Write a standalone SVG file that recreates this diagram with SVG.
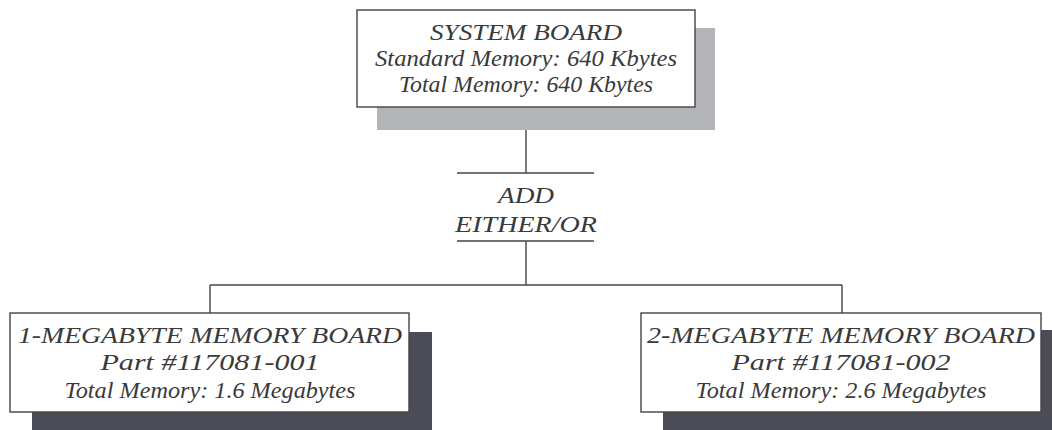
<svg xmlns="http://www.w3.org/2000/svg" width="1052" height="430" viewBox="0 0 1052 430">
<style>
.box{fill:#fff;stroke:#444;stroke-width:1.4}
.sh1{fill:#b3b4b8}
.sh2{fill:#4b4c55}
.ln{stroke:#444;stroke-width:1.4;fill:none}
text{font-family:"Liberation Serif","DejaVu Serif",serif;font-style:italic;font-size:23px;fill:#3a3a3a;text-anchor:middle}
</style>
<rect width="1052" height="430" fill="#fff"/>
<g id="connectors">
<line class="ln" x1="526" y1="107" x2="526" y2="173"/>
<line class="ln" x1="457" y1="173" x2="594" y2="173"/>
<line class="ln" x1="457" y1="241" x2="594" y2="241"/>
<line class="ln" x1="526" y1="241" x2="526" y2="285"/>
<line class="ln" x1="210" y1="285" x2="842" y2="285"/>
<line class="ln" x1="210" y1="285" x2="210" y2="313"/>
<line class="ln" x1="842" y1="285" x2="842" y2="313"/>
</g>
<g id="system-board">
<rect class="sh1" x="377" y="28" width="338" height="102"/>
<rect class="box" x="357" y="10" width="338" height="97"/>
<text x="526" y="40" textLength="192" lengthAdjust="spacingAndGlyphs">SYSTEM BOARD</text>
<text x="526" y="66" textLength="302" lengthAdjust="spacingAndGlyphs">Standard Memory: 640 Kbytes</text>
<text x="526" y="92" textLength="254" lengthAdjust="spacingAndGlyphs">Total Memory: 640 Kbytes</text>
</g>
<g id="add-either-or">
<text x="526" y="203" textLength="56" lengthAdjust="spacingAndGlyphs">ADD</text>
<text x="526" y="232" textLength="142" lengthAdjust="spacingAndGlyphs">EITHER/OR</text>
</g>
<g id="board-1mb">
<rect class="sh2" x="32" y="332" width="400" height="110"/>
<rect class="box" x="10" y="313" width="399" height="99"/>
<text x="210" y="343" textLength="384" lengthAdjust="spacingAndGlyphs">1-MEGABYTE MEMORY BOARD</text>
<text x="210" y="370" textLength="219" lengthAdjust="spacingAndGlyphs">Part #117081-001</text>
<text x="210" y="398" textLength="291" lengthAdjust="spacingAndGlyphs">Total Memory: 1.6 Megabytes</text>
</g>
<g id="board-2mb">
<rect class="sh2" x="663" y="330" width="400" height="112"/>
<rect class="box" x="641" y="313" width="400" height="99"/>
<text x="841" y="343" textLength="388" lengthAdjust="spacingAndGlyphs">2-MEGABYTE MEMORY BOARD</text>
<text x="841" y="370" textLength="219" lengthAdjust="spacingAndGlyphs">Part #117081-002</text>
<text x="841" y="398" textLength="291" lengthAdjust="spacingAndGlyphs">Total Memory: 2.6 Megabytes</text>
</g>
</svg>
